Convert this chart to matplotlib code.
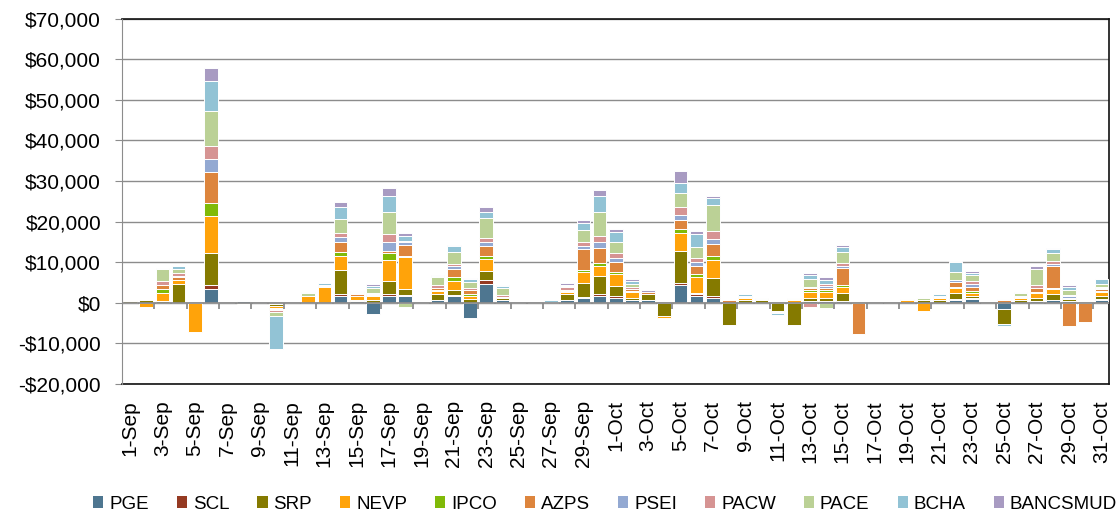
import numpy as np
import matplotlib.pyplot as plt
from matplotlib.patches import Patch
from matplotlib.ticker import FuncFormatter

plt.rcParams['font.family'] = ['Liberation Sans', 'DejaVu Sans']

# daily values, $ thousands, 1-Sep .. 31-Oct
days = [f"{d}-Sep" for d in range(1, 31)] + [f"{d}-Oct" for d in range(1, 32)]

PGE = [0,0,0,0,0, 3.3,0,0.4,0,-0.3,
       0,0,0,1.5,0.3, -2.9,1.6,1.5,0,0.5,
       1.6,-3.9,4.6,0.7,0, 0,0,0.6,1.1,1.7,
       1.0,0.5,0.7,0,4.4, 1.6,1.1,0,0,0,
       0,0,0.4,0.4,0.3, 0,0,0,0,0,
       0,0.6,0.8,0,-1.7, 0,0.4,0.5,0.4,0,
       0.6]
SCL = [0,0,0,0,0, 1.1,0,0,0,0,
       0,0,0,0.5,0, 0,0.6,0.3,0,0,
       0.3,0,1.0,0,0, 0,0,0,0.3,0.4,
       0.7,0,0,0,0.4, 0.5,0.4,0,0,0,
       0,0,0,0,0, 0,0,0,0,0,
       0,0.3,0.3,0,0, 0,0,0,0,0,
       0.3]
SRP = [0.3,0.6,0.4,4.5,0, 7.8,0,-0.3,0,-0.6,
       0,0,0,6.1,0.3, 0.7,3.0,1.6,0,1.7,
       1.3,0.9,2.1,0.3,0, 0,0,1.4,3.3,4.4,
       2.4,0.6,1.5,-3.4,8.0, 0.3,4.6,-5.6,0.7,0.5,
       -2.0,-5.5,0.7,0.7,2.1, 0,0,0,0,0.5,
       0.5,1.5,0.5,0,-3.7, 0.5,0.7,1.6,0.4,0,
       0.6]
NEVP = [0.2,-1.0,2.0,1.1,-7.4, 9.1,0,0,0,-0.4,
        0,1.7,3.8,3.4,1.0, 0.8,5.3,7.8,0,0.7,
        2.1,0.8,3.0,0.3,0, 0,0,0.6,2.8,2.4,
        2.9,1.6,0,-0.5,4.3, 3.9,4.3,0,0.3,0.3,
        -0.3,0.5,1.6,1.5,1.5, 0,0,0,0.6,-2.0,
        0.5,1.1,0.8,0,0, 0.5,1.2,1.2,0.4,0,
        1.0]
IPCO = [0,0,1.0,0,0, 3.2,0,0,0,-0.3,
        0,0,0,1.0,0, 0.25,1.8,0.4,0,0.3,
        1.1,0.3,0.7,0,0, 0,0,0.2,0.6,0.9,
        0.6,0.2,0,0,1.1, 0.7,1.0,0,0,0,
        0,0,0.4,0.4,0.4, 0,0,0,0,0,
        0,0.4,0.4,0,0, 0,0.25,0.4,0,0,
        0.25]
AZPS = [0,0,0.9,0.6,0, 7.8,0,0,0,-0.3,
        0,0,0.3,2.4,0.4, 0.4,0.3,2.7,0,0.4,
        1.9,1.2,2.5,0,0, 0,0,0.4,5.2,3.7,
        2.5,0.4,0.4,0,2.1, 2.1,3.0,0.6,0.3,0,
        0,0.25,0.4,0.7,4.3, -7.7,0,0,0.2,0,
        0,1.1,1.1,0,0.5, 0.3,1.1,5.2,-5.7,-4.9,
        0.6]
PSEI = [0,0,0,0.3,0, 3.1,0,0,0,0,
        0,0,0,1.2,0, 0.3,2.4,0.6,0,0,
        0.6,0,1.0,0,0, 0,0.2,0,0.7,1.5,
        1.0,0,0,0,1.4, 0.8,1.2,0,0,0,
        0,0,0.3,0.3,0.4, 0,0,0,0,0,
        0,0.6,0.7,0,0, 0,0,0.5,0.3,0,
        0.3]
PACW = [0,0,1.0,0.8,0, 3.3,0,0,0,-0.4,
        0,0,0,1.1,0.3, 0,2.0,0.4,0,0.6,
        0.6,0.5,1.1,0.6,0, 0,0,0.6,0.9,1.4,
        1.2,0.6,0,0,1.9, 1.1,2.1,0,0,0,
        -0.3,0,-1.0,0.6,0.7, 0,0,0,0,0,
        0.3,0,0.6,0,0.3, 0.3,0.6,0.8,0.3,0,
        0.3]
PACE = [0,0,2.9,1.0,0, 8.5,0,0,0,-1.0,
        0,0.6,0.3,3.4,0.3, 1.1,5.4,-1.2,0,2.0,
        2.9,1.4,4.8,1.6,0, 0,0,0.3,2.9,6.0,
        2.6,0.6,0,0,3.4, 2.6,6.4,0,0.3,0.25,
        0,0.25,2.0,-1.4,2.7, 0,0,0,0,0.5,
        0.3,1.9,1.7,0,0, 0.8,3.9,2.0,1.3,0,
        0.6]
BCHA = [0,0,0.2,0.6,0, 7.5,0,0,0,-8.2,
        0,0.25,0.3,2.9,0.2, 0.6,3.9,1.2,0,0.3,
        1.5,0.6,1.5,0.5,0, 0,0.4,0.3,1.8,4.0,
        2.5,0.8,0,0,2.5, 3.3,1.6,0,0.5,0,
        -0.4,0,1.0,1.0,1.2, 0,0,0,0,0,
        0.4,2.4,0.5,0,-0.3, 0.3,0,1.0,0.7,0,
        1.2]
BANCSMUD = [0,0,0,0.2,0, 3.2,0,0,0,0,
            0,0,0,1.3,0, 0.3,1.9,0.6,0,0.3,
            0.4,0.25,1.3,0.3,0, 0,0,0.4,0.7,1.4,
            0.7,0.4,0.4,0,2.9, 0.7,0.7,0,0,0,
            0,0,0.4,0.6,0.6, 0,0,0,0,0,
            0,0.3,0.4,0,0, 0,0.8,0.3,0.4,0,
            0]

names = ['PGE', 'SCL', 'SRP', 'NEVP', 'IPCO', 'AZPS', 'PSEI', 'PACW', 'PACE', 'BCHA', 'BANCSMUD']
series = [PGE, SCL, SRP, NEVP, IPCO, AZPS, PSEI, PACW, PACE, BCHA, BANCSMUD]
colors = ['#4e7690', '#953a22', '#857a00', '#ffa30a', '#80ba08', '#dd853d',
          '#93a9d2', '#d69493', '#bbd196', '#92c3d5', '#a89bc2']

fig = plt.figure(figsize=(11.19, 5.23), dpi=100)
ax = fig.add_axes([0.109, 0.2667, 0.8825, 0.697])

x = np.arange(len(days))
pos_bottom = np.zeros(len(days))
neg_bottom = np.zeros(len(days))
for name, vals, c in zip(names, series, colors):
    v = np.array(vals) * 1000
    bottom = np.where(v >= 0, pos_bottom, neg_bottom)
    ax.bar(x, v, 0.84, bottom=bottom, color=c, edgecolor='white', linewidth=0.7, zorder=3)
    pos_bottom += np.clip(v, 0, None)
    neg_bottom += np.clip(v, None, 0)

ax.set_xlim(-0.5, len(days) - 0.5)
ax.set_ylim(-20000, 70000)
ax.set_yticks(np.arange(-20000, 70001, 10000))
ax.yaxis.set_major_formatter(FuncFormatter(lambda v, p: ('-$' if v < 0 else '$') + f"{abs(v):,.0f}"))
ax.grid(axis='y', color='#8c8c8c', linewidth=1, zorder=0)

# zero axis with its tick marks
ax.axhline(0, color='#8c8c8c', linewidth=1.3, zorder=4)
ax.vlines(np.arange(1.5, len(days), 2), -1500, 0, color='#8c8c8c', linewidth=1.3, zorder=4)

ax.set_xticks(x[::2])
ax.set_xticklabels(days[::2], rotation=90, fontsize=15)
ax.tick_params(axis='x', length=0, pad=12)
ax.tick_params(axis='y', labelsize=15, length=5, color='#8c8c8c', pad=10)

for s in ['top', 'right', 'bottom']:
    ax.spines[s].set_color('#111111')
    ax.spines[s].set_linewidth(1.2)
ax.spines['left'].set_color('#8c8c8c')
ax.spines['left'].set_zorder(5)

handles = [Patch(facecolor=c, label=n) for n, c in zip(names, colors)]
fig.legend(handles=handles, loc='center', bbox_to_anchor=(0.5407, 0.036), ncol=11,
           frameon=False, fontsize=13.5, handlelength=0.55, handleheight=0.55,
           handletextpad=0.3, columnspacing=1.5, borderpad=0)

fig.savefig('out.png', dpi=100)
